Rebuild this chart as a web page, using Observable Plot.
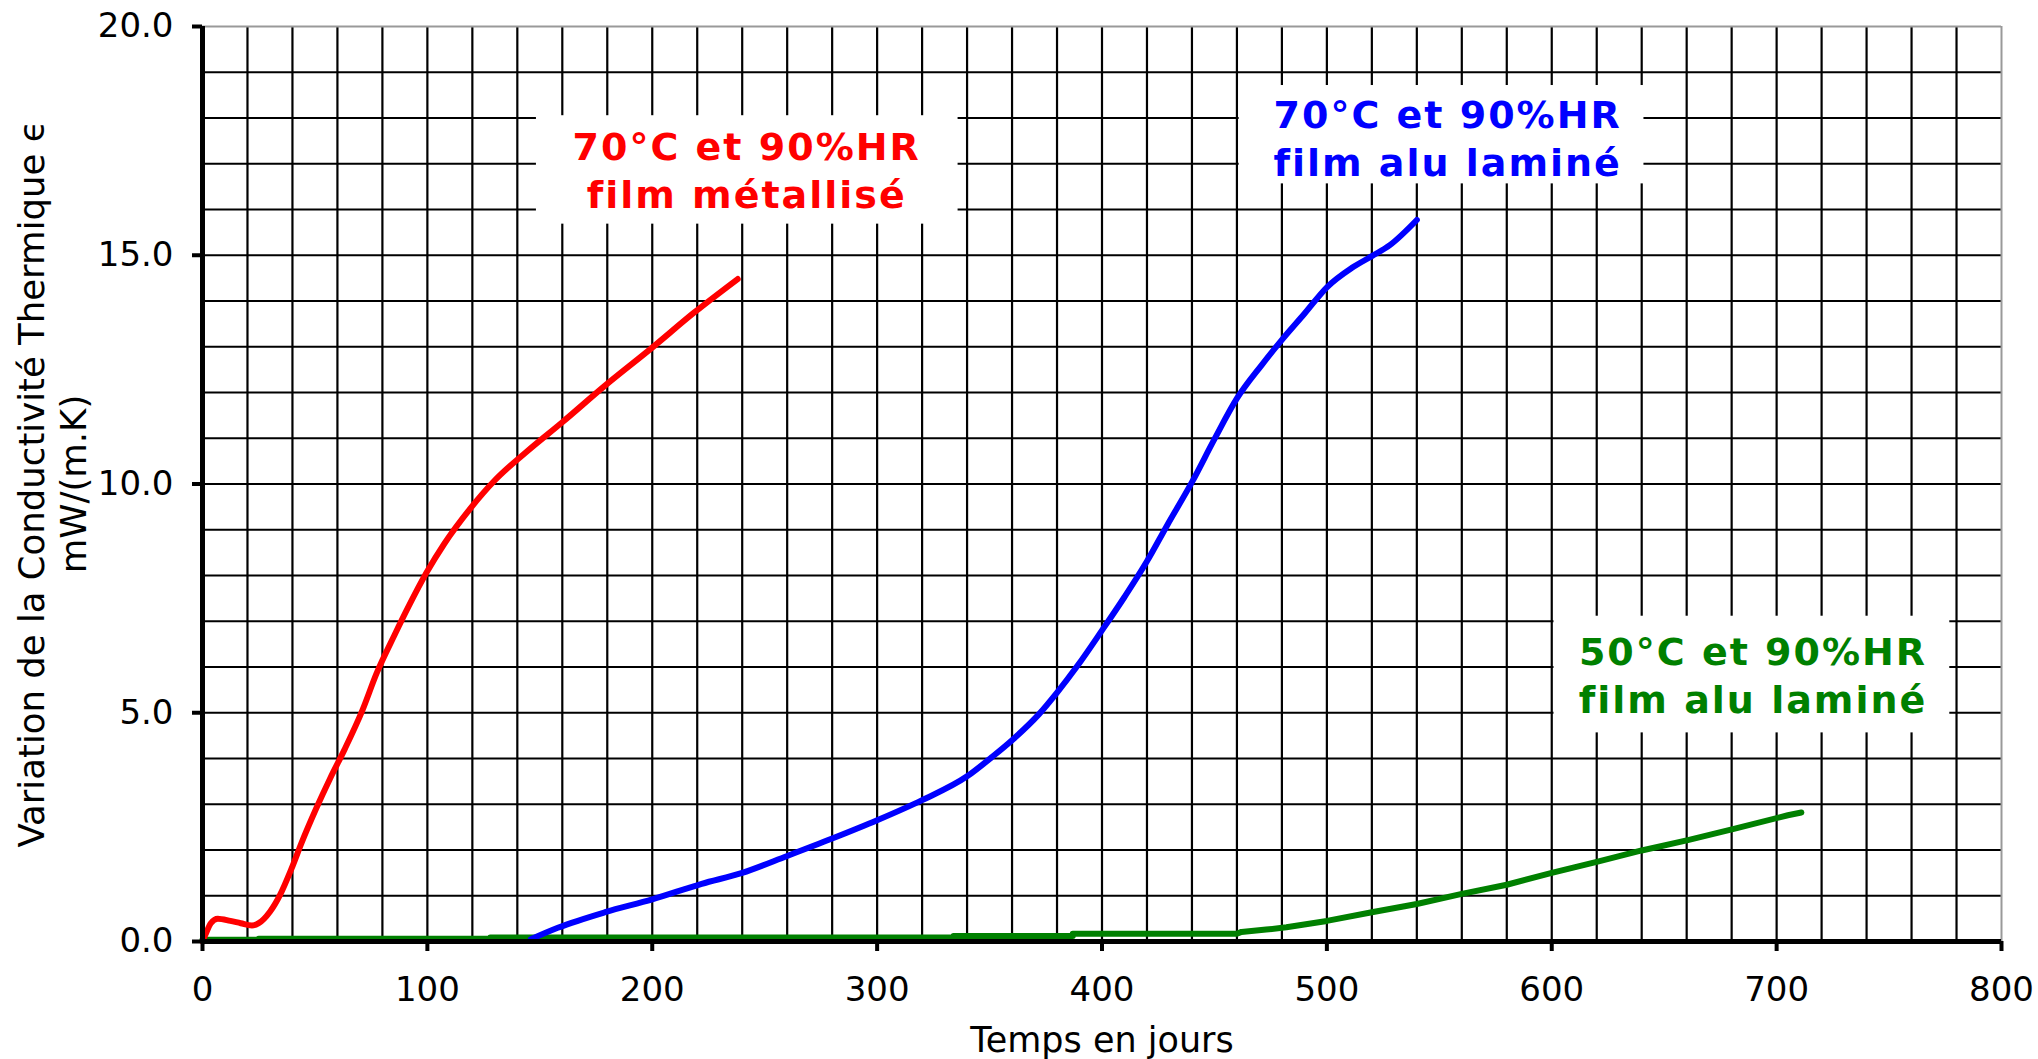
<!DOCTYPE html>
<html><head><meta charset="utf-8">
<script src="https://cdn.jsdelivr.net/npm/d3@7"></script>
<script src="https://cdn.jsdelivr.net/npm/@observablehq/plot@0.6"></script>
<style>
html,body{margin:0;padding:0;background:#fff;}
</style></head><body><div id="chart"></div>
<script>
// Series: 70°C / 90%HR, film métallisé (red)
const redDays   = [0, 1.3, 3.7, 6.8, 12.4, 17, 22, 25, 30, 34.6, 39.4, 44, 50.5, 56.8, 63.2, 71, 77.5, 85.4, 91.7, 99.7, 107.6, 118.7, 129.8, 144, 160, 179, 199.7, 218.7, 238];
const redValues = [0, 0.15, 0.4, 0.5, 0.45, 0.4, 0.35, 0.4, 0.65, 1.03, 1.57, 2.15, 2.9, 3.57, 4.2, 5.04, 5.87, 6.7, 7.33, 8.07, 8.7, 9.44, 10.07, 10.7, 11.35, 12.15, 12.97, 13.75, 14.48];
// Series: 70°C / 90%HR, film alu laminé (blue)
const blueDays   = [146, 158, 179, 200, 222, 240, 260, 280, 300, 320, 340, 351, 360, 372, 380, 389, 400, 410, 420, 429, 440, 450, 460, 471, 480, 490, 500, 511, 520, 528, 540];
const blueValues = [0.05, 0.3, 0.64, 0.92, 1.26, 1.5, 1.87, 2.25, 2.65, 3.09, 3.61, 4.03, 4.4, 4.97, 5.44, 6.02, 6.8, 7.53, 8.31, 9.1, 10.04, 10.98, 11.87, 12.6, 13.15, 13.72, 14.3, 14.72, 14.98, 15.22, 15.77];
// Series: 50°C / 90%HR, film alu laminé (green)
const greenDays   = [0, 25, 25, 128, 128, 334, 334, 387, 387, 460, 462, 473, 482, 500, 520, 540, 560, 580, 600, 620, 640, 661, 681, 705, 711];
const greenValues = [0.04, 0.04, 0.06, 0.06, 0.09, 0.09, 0.12, 0.12, 0.17, 0.17, 0.21, 0.26, 0.31, 0.45, 0.64, 0.82, 1.04, 1.24, 1.5, 1.74, 1.99, 2.22, 2.46, 2.76, 2.82];

// Axis ticks
const xTicks = [0, 100, 200, 300, 400, 500, 600, 700, 800];
const yTicks = [0, 5, 10, 15, 20];
const xGridStep = 20;
const yGridStep = 1;

// Annotations
const noteTexts  = ["70°C et 90%HR\nfilm métallisé", "70°C et 90%HR\nfilm alu laminé", "50°C et 90%HR\nfilm alu laminé"];
const noteColors = ["#ff0000", "#0000ff", "#008000"];
const noteDays   = [242, 553.7, 689.5];
const noteValues = [16.9, 17.6, 5.86];
const boxDayStart = [148.5, 461, 601];
const boxDayEnd   = [336, 641, 777];
const boxLow      = [15.68, 16.56, 4.56];
const boxHigh     = [18.05, 18.71, 7.11];

const xTitle = "Temps en jours";
const yTitle1 = "Variation de la Conductivité Thermique ϵ";
const yTitle2 = "mW/(m.K)";

const toPoints = (xs, ys) => xs.map((x, i) => ({x, y: ys[i]}));
const red = toPoints(redDays, redValues);
const blue = toPoints(blueDays, blueValues);
const green = toPoints(greenDays, greenValues);
const notes = noteTexts.map((t, i) => ({t, c: noteColors[i], x: noteDays[i], y: noteValues[i]}));
const boxes = boxDayStart.map((x1, i) => ({x1, x2: boxDayEnd[i], y1: boxLow[i], y2: boxHigh[i]}));
const xGrid = d3.range(xGridStep, 800, xGridStep);
const yGrid = d3.range(yGridStep, 20, yGridStep);

const chart = Plot.plot({
  width: 2038,
  height: 1059,
  marginLeft: 202,
  marginRight: 37,
  marginTop: 26,
  marginBottom: 118,
  style: {fontFamily: "'DejaVu Sans', Verdana, sans-serif", fontSize: "34px", background: "#fff", color: "#000"},
  x: {domain: [0, 800]},
  y: {domain: [0, 20]},
  marks: [
    Plot.ruleX(xGrid, {stroke: "#000", strokeWidth: 2.2}),
    Plot.ruleY(yGrid, {stroke: "#000", strokeWidth: 2.2}),
    Plot.ruleY([20], {stroke: "#999", strokeWidth: 2}),
    Plot.ruleX([800], {stroke: "#999", strokeWidth: 2}),
    Plot.rect(boxes, {x1: "x1", x2: "x2", y1: "y1", y2: "y2", fill: "#fff"}),
    Plot.line(green, {x: "x", y: "y", stroke: "#008000", strokeWidth: 6, strokeLinejoin: "round", strokeLinecap: "round"}),
    Plot.line(blue, {x: "x", y: "y", stroke: "#0000ff", strokeWidth: 6, curve: "monotone-x", strokeLinejoin: "round", strokeLinecap: "round"}),
    Plot.line(red, {x: "x", y: "y", stroke: "#ff0000", strokeWidth: 6, curve: "monotone-x", strokeLinejoin: "round", strokeLinecap: "round"}),
    Plot.ruleX([0], {stroke: "#000", strokeWidth: 5}),
    Plot.ruleY([0], {stroke: "#000", strokeWidth: 5}),
    Plot.axisX({ticks: xTicks, tickSize: 10, tickPadding: 25, strokeWidth: 4, label: null, fontSize: 34}),
    Plot.axisY({ticks: yTicks, tickSize: 10, tickPadding: 19, strokeWidth: 4, label: null, fontSize: 34, tickFormat: d3.format(".1f")}),
    Plot.text(notes, {x: "x", y: "y", text: "t", fill: "c", fontSize: 38, fontWeight: "bold", lineHeight: 1.27, lineAnchor: "middle", textAnchor: "middle"}),
    Plot.text([xTitle], {text: d => d, frameAnchor: "bottom", dy: 99, fontSize: 35, lineAnchor: "middle", textAnchor: "middle"}),
    Plot.text([yTitle1], {text: d => d, frameAnchor: "left", dx: -170, rotate: -90, fontSize: 35.5, lineAnchor: "middle", textAnchor: "middle"}),
    Plot.text([yTitle2], {text: d => d, frameAnchor: "left", dx: -128, rotate: -90, fontSize: 35.5, lineAnchor: "middle", textAnchor: "middle"})
  ]
});
d3.select(chart).selectAll("text")
  .filter(function() { return this.textContent.includes("°C"); })
  .style("letter-spacing", "2px");
document.getElementById("chart").appendChild(chart);
</script></body></html>
